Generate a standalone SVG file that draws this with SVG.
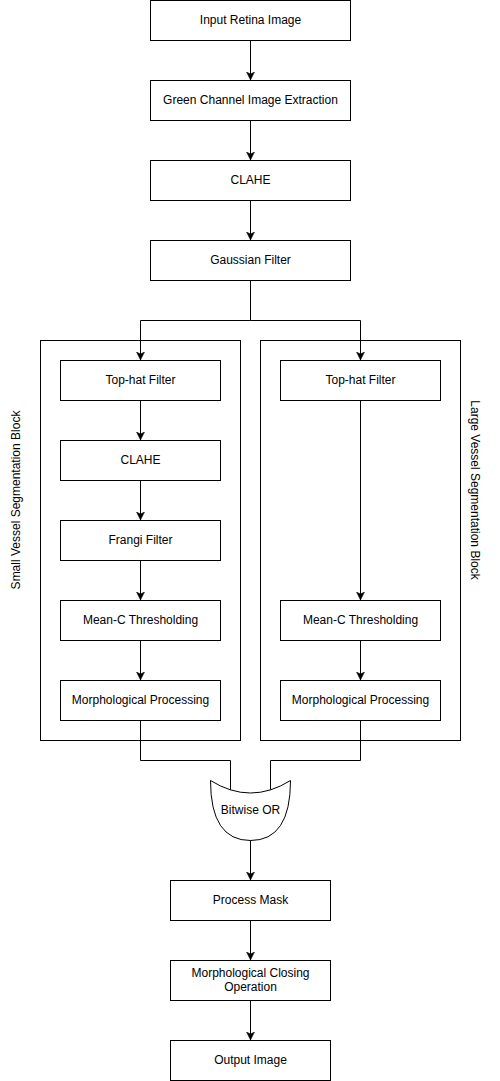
<svg xmlns="http://www.w3.org/2000/svg" width="500" height="1081" viewBox="0 0 500 1081">
<style>
.box{fill:#fff;stroke:#000;stroke-width:1}
.cont{fill:none;stroke:#000;stroke-width:1}
.lbl{font-family:"Liberation Sans",Arial,sans-serif;font-size:12px;fill:#000;text-anchor:middle;dominant-baseline:central}
.edge{fill:none;stroke:#000;stroke-width:1}
.arr{marker-end:url(#ah)}
</style>
<defs>
<marker id="ah" markerUnits="userSpaceOnUse" markerWidth="10" markerHeight="10" refX="8" refY="4" orient="auto">
<path d="M0,0 L8,4 L0,8 L2,4 z" fill="#000" stroke="#000" stroke-width="0.5"/>
</marker>
</defs>
<rect width="500" height="1081" fill="#fff"/>
<g id="containers">
<g id="small-block"><rect class="cont" x="40.5" y="340.5" width="200" height="400"/>
<text class="lbl" transform="translate(16,500) rotate(-90)">Small Vessel Segmentation Block</text></g>
<g id="large-block"><rect class="cont" x="260.5" y="340.5" width="200" height="400"/>
<text class="lbl" transform="translate(475,490) rotate(90)">Large Vessel Segmentation Block</text></g>
</g>
<g id="connectors">
<path class="edge arr" d="M250.5,40.5 V80"/>
<path class="edge arr" d="M250.5,120.5 V160"/>
<path class="edge arr" d="M250.5,200.5 V240"/>
<path class="edge" d="M250.5,280.5 V320.5 H140.5"/>
<path class="edge arr" d="M140.5,320.5 V360"/>
<path class="edge" d="M250.5,320.5 H360.5"/>
<path class="edge arr" d="M360.5,320.5 V360"/>
<path class="edge arr" d="M140.5,400.5 V440"/>
<path class="edge arr" d="M140.5,480.5 V520"/>
<path class="edge arr" d="M140.5,560.5 V600"/>
<path class="edge arr" d="M140.5,640.5 V680"/>
<path class="edge arr" d="M360.5,400.5 V600"/>
<path class="edge arr" d="M360.5,640.5 V680"/>
<path class="edge" d="M140.5,720.5 V760.5 H230.5 V790"/>
<path class="edge" d="M360.5,720.5 V760.5 H270.5 V790"/>
<path class="edge arr" d="M250.5,840 V880"/>
<path class="edge arr" d="M250.5,920.5 V960"/>
<path class="edge arr" d="M250.5,1000.5 V1040"/>
</g>
<g id="n1"><rect class="box" x="150.5" y="0.5" width="200" height="40"/><text class="lbl" x="250.5" y="19.5">Input Retina Image</text></g>
<g id="n2"><rect class="box" x="150.5" y="80.5" width="200" height="40"/><text class="lbl" x="250.5" y="99.5">Green Channel Image Extraction</text></g>
<g id="n3"><rect class="box" x="150.5" y="160.5" width="200" height="40"/><text class="lbl" x="250.5" y="179.5">CLAHE</text></g>
<g id="n4"><rect class="box" x="150.5" y="240.5" width="200" height="40"/><text class="lbl" x="250.5" y="259.5">Gaussian Filter</text></g>
<g id="s1"><rect class="box" x="60.5" y="360.5" width="160" height="40"/><text class="lbl" x="140.5" y="379.5">Top-hat Filter</text></g>
<g id="s2"><rect class="box" x="60.5" y="440.5" width="160" height="40"/><text class="lbl" x="140.5" y="459.5">CLAHE</text></g>
<g id="s3"><rect class="box" x="60.5" y="520.5" width="160" height="40"/><text class="lbl" x="140.5" y="539.5">Frangi Filter</text></g>
<g id="s4"><rect class="box" x="60.5" y="600.5" width="160" height="40"/><text class="lbl" x="140.5" y="619.5">Mean-C Thresholding</text></g>
<g id="s5"><rect class="box" x="60.5" y="680.5" width="160" height="40"/><text class="lbl" x="140.5" y="699.5">Morphological Processing</text></g>
<g id="l1"><rect class="box" x="280.5" y="360.5" width="160" height="40"/><text class="lbl" x="360.5" y="379.5">Top-hat Filter</text></g>
<g id="l4"><rect class="box" x="280.5" y="600.5" width="160" height="40"/><text class="lbl" x="360.5" y="619.5">Mean-C Thresholding</text></g>
<g id="l5"><rect class="box" x="280.5" y="680.5" width="160" height="40"/><text class="lbl" x="360.5" y="699.5">Morphological Processing</text></g>
<g id="or"><path class="box" d="M290.5,780.5 Q290.5,840.5 250.5,840.5 Q210.5,840.5 210.5,780.5 Q250.5,805.5 290.5,780.5 z"/><text class="lbl" x="250.5" y="809.5">Bitwise OR</text></g>
<g id="m1"><rect class="box" x="170.5" y="880.5" width="160" height="40"/><text class="lbl" x="250.5" y="899.5">Process Mask</text></g>
<g id="m2"><rect class="box" x="170.5" y="960.5" width="160" height="40"/><text class="lbl" x="250.5" y="979.5"><tspan x="250.5" dy="-7">Morphological Closing</tspan><tspan x="250.5" dy="14">Operation</tspan></text></g>
<g id="m3"><rect class="box" x="170.5" y="1040.5" width="160" height="40"/><text class="lbl" x="250.5" y="1059.5">Output Image</text></g>
</svg>
